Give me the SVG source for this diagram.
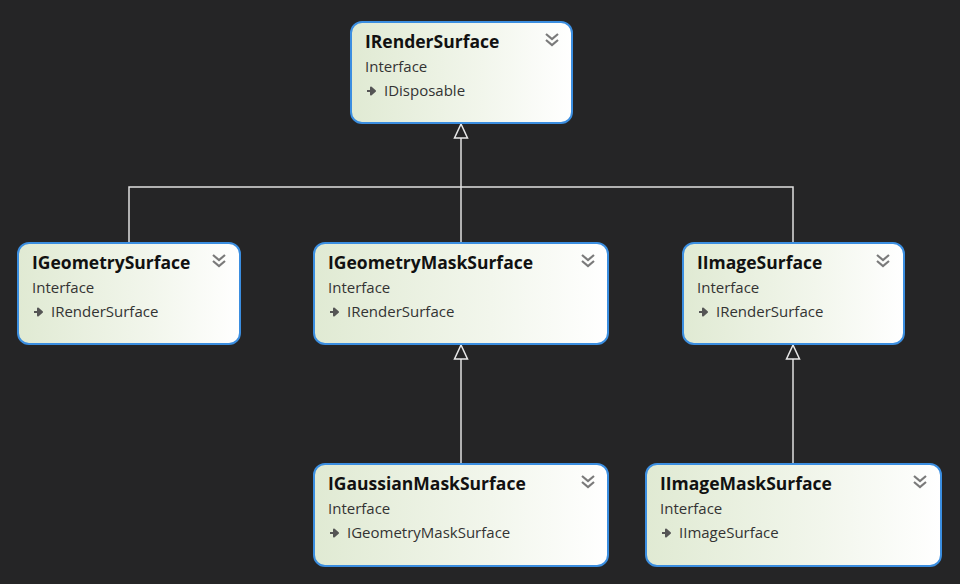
<svg xmlns="http://www.w3.org/2000/svg" width="960" height="584" viewBox="0 0 960 584">
<defs>
<linearGradient id="g" x1="0" y1="0" x2="1" y2="0">
<stop offset="0" stop-color="#e0ead3"/>
<stop offset="0.6" stop-color="#f2f6ec"/>
<stop offset="1" stop-color="#ffffff"/>
</linearGradient>
<marker id="tri" viewBox="0 0 16 16" refX="15" refY="8" markerWidth="16" markerHeight="16" markerUnits="userSpaceOnUse" orient="auto">
<path d="M15,8 L1,1.5 L1,14.5 Z" fill="#252526" stroke="#e8e8e8" stroke-width="1.5" stroke-linejoin="miter"/>
</marker>
<g id="chev">
<path d="M-6,-5 L0,0 L6,-5 M-6,1 L0,6 L6,1" fill="none" stroke="#7a7a7a" stroke-width="2.2"/>
</g>
<g id="arr">
<path d="M0,0 L7,0 M4,-3.5 L8,0 L4,3.5 Z" fill="#555" stroke="#555" stroke-width="2" stroke-linejoin="round"/>
</g>
</defs>
<style>
.box{fill:url(#g);stroke:#3b8ee0;stroke-width:2}
.t{font-family:"Open Sans","Noto Sans",sans-serif;font-weight:bold;font-size:17.5px;fill:#111}
.s{font-family:"Open Sans","Noto Sans",sans-serif;font-size:15px;fill:#333}
.c{fill:none;stroke:#e0e0e0;stroke-width:1.5}
</style>
<rect width="960" height="584" fill="#252526"/>
<g id="connectors">
<path class="c" d="M129,243 V187 H793 V243"/>
<path class="c" d="M461,243 V124" marker-end="url(#tri)"/>
<path class="c" d="M461,464 V345" marker-end="url(#tri)"/>
<path class="c" d="M793,464 V345" marker-end="url(#tri)"/>
</g>
<g id="IRenderSurface">
<rect class="box" x="351" y="22" width="221" height="101" rx="11"/>
<text class="t" x="365" y="48">IRenderSurface</text>
<text class="s" x="365" y="72">Interface</text>
<use href="#arr" x="367" y="91"/>
<text class="s" x="384" y="96">IDisposable</text>
<use href="#chev" x="552" y="39"/>
</g>
<g id="IGeometrySurface">
<rect class="box" x="18" y="243" width="222" height="101" rx="11"/>
<text class="t" x="32" y="269">IGeometrySurface</text>
<text class="s" x="32" y="293">Interface</text>
<use href="#arr" x="34" y="312"/>
<text class="s" x="51" y="317">IRenderSurface</text>
<use href="#chev" x="219" y="260"/>
</g>
<g id="IGeometryMaskSurface">
<rect class="box" x="314" y="243" width="294" height="101" rx="11"/>
<text class="t" x="328" y="269">IGeometryMaskSurface</text>
<text class="s" x="328" y="293">Interface</text>
<use href="#arr" x="330" y="312"/>
<text class="s" x="347" y="317">IRenderSurface</text>
<use href="#chev" x="588" y="260"/>
</g>
<g id="IImageSurface">
<rect class="box" x="683" y="243" width="221" height="101" rx="11"/>
<text class="t" x="697" y="269">IImageSurface</text>
<text class="s" x="697" y="293">Interface</text>
<use href="#arr" x="699" y="312"/>
<text class="s" x="716" y="317">IRenderSurface</text>
<use href="#chev" x="883" y="260"/>
</g>
<g id="IGaussianMaskSurface">
<rect class="box" x="314" y="464" width="294" height="102" rx="11"/>
<text class="t" x="328" y="490">IGaussianMaskSurface</text>
<text class="s" x="328" y="514">Interface</text>
<use href="#arr" x="330" y="533"/>
<text class="s" x="347" y="538">IGeometryMaskSurface</text>
<use href="#chev" x="588" y="481"/>
</g>
<g id="IImageMaskSurface">
<rect class="box" x="646" y="464" width="295" height="102" rx="11"/>
<text class="t" x="660" y="490">IImageMaskSurface</text>
<text class="s" x="660" y="514">Interface</text>
<use href="#arr" x="662" y="533"/>
<text class="s" x="679" y="538">IImageSurface</text>
<use href="#chev" x="920" y="481"/>
</g>
</svg>
